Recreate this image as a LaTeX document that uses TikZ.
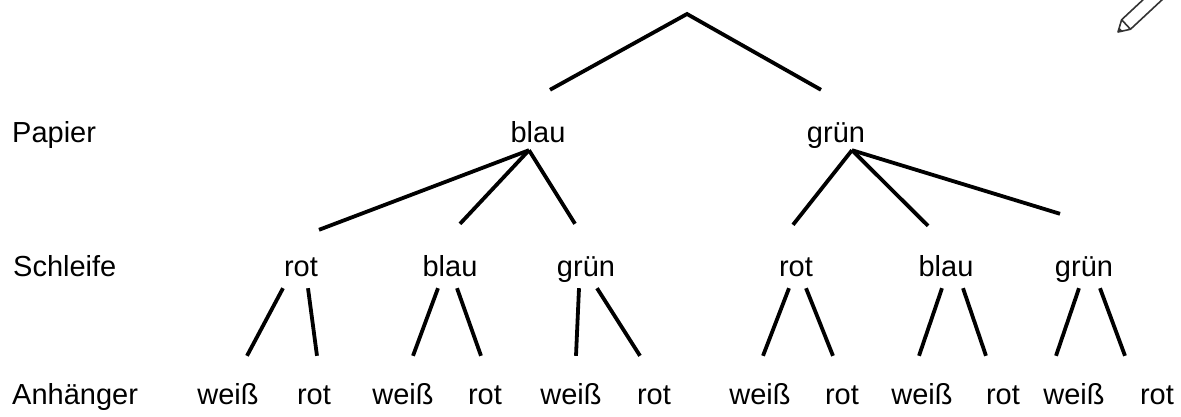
\documentclass[tikz,border=0pt]{standalone}
\usepackage{fontspec}
\setmainfont{Liberation Sans}

\begin{document}
\begin{tikzpicture}[x=1pt,y=-1pt,
    every node/.style={inner sep=0pt,anchor=base,font=\fontsize{29}{34}\selectfont},
    lvla/.style={text height=52pt,text depth=8pt},
    lvlb/.style={text height=50pt,text depth=12pt},
    lvlc/.style={text height=48pt,text depth=8pt},
    edge/.style={line width=3.8pt}]

    \useasboundingbox (0,0) rectangle (1181,416);

    % Row labels
    \node[anchor=base west] (pap) at (12,142) {Papier};
    \node[anchor=base west] (schl) at (13,276) {Schleife};
    \node[anchor=base west] (anh) at (12,404) {Anhänger};

    % Papier
    \coordinate (top) at (687,14);
    \node[lvla] (b1) at (538,142) {blau};
    \node[lvla] (g1) at (836,142) {grün};

    % Schleife
    \foreach \i/\x/\t in {1/301/rot,2/450/blau,3/586/grün,4/796/rot,5/946/blau,6/1084/grün} {
      \node[lvlb] (s\i) at (\x,276) {\t};
    }

    % Anhänger
    \foreach \i/\x/\t in {1/228/weiß,2/314/rot,3/403/weiß,4/485/rot,5/571/weiß,6/654/rot,
                          7/760/weiß,8/842/rot,9/922/weiß,10/1003/rot,11/1074/weiß,12/1157/rot} {
      \node[lvlc] (a\i) at (\x,404) {\t};
    }

    % Root branches
    \draw[edge] ([xshift=12pt]b1.north) -- (top) -- ([xshift=-15pt]g1.north);

    % Papier -> Schleife
    \foreach \p/\c/\u/\v/\w in {b1/1/-9/18/-4,b1/2/-9/10/2,b1/3/-9/-11/2,
                                g1/4/16/-3/1,g1/5/16/-18/0,g1/6/16/-24/12} {
      \draw[edge] ([xshift=\u pt]\p.south) -- ([xshift=\v pt,yshift=\w pt]s\c.north);
    }

    % Schleife -> Anhänger
    \foreach \p/\c/\u/\v in {1/1/-18/19,1/2/7/3,2/3/-12/10,2/4/7/-4,3/5/-7/5,3/6/11/-14,
                             4/7/-7/3,4/8/10/-9,5/9/-4/-3,5/10/17/-17,6/11/-5/-18,6/12/16/-32} {
      \draw[edge] ([xshift=\u pt]s\p.south) -- ([xshift=\v pt]a\c.north);
    }

    % Pencil
    \begin{scope}
      \clip (0,0) rectangle (1181,416);
      \begin{scope}[shift={(1118,32)},rotate=43,line width=1.6pt,line join=round,black!80]
        \draw (70,-6.5) -- (11,-6.5) -- (0,0) -- (11,6.5) -- (70,6.5) (11,-6.5) -- (11,6.5);
        \fill (0,0) -- (4,-2.4) -- (4,2.4) -- cycle;
      \end{scope}
    \end{scope}

\end{tikzpicture}
\end{document}
